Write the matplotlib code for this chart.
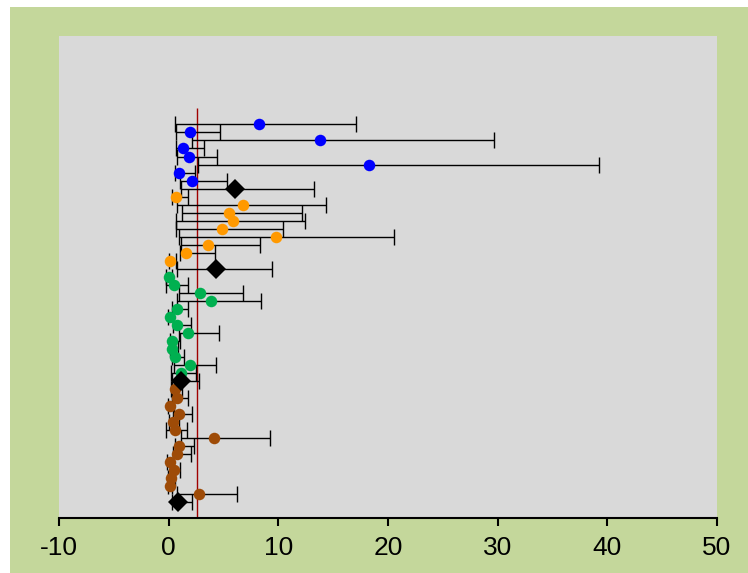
import numpy as np
import matplotlib
matplotlib.use("Agg")
import matplotlib.pyplot as plt
from matplotlib.patches import Rectangle

plt.rcParams['font.family'] = ['Liberation Sans', 'DejaVu Sans']

# estimate, lower limit, upper limit per study, grouped; last item of each group is the pooled value
blue_est = [8.2, 1.97, 13.8, 1.27, 1.85, 18.3, 0.93, 2.15]
blue_lo = [0.57, 0.66, 2.09, 0.63, 0.75, 2.67, 0.57, 1.03]
blue_hi = [17.1, 4.7, 29.7, 3.2, 4.4, 39.2, 2.4, 5.35]
blue_pool = [6.05, 1.15, 13.23]

orange_est = [0.63, 6.81, 5.47, 5.87, 4.89, 9.79, 3.58, 1.6, 0.14]
orange_lo = [0.3, 0.75, 1.21, 0.66, 0.63, 0.9, 1.15, 1.06, 0.0]
orange_hi = [1.76, 14.36, 12.17, 12.47, 10.43, 20.54, 8.33, 4.25, 0.66]
orange_pool = [4.28, 0.75, 9.43]

green_est = [0.0, 0.5, 2.85, 3.85, 0.76, 0.12, 0.76, 1.79, 0.33, 0.29, 0.55, 1.93, 1.1]
green_lo = [-0.2, -0.28, 0.95, 0.72, 0.27, -0.1, 0.4, 0.97, 0.1, 0.1, 0.3, 0.48, 0.22]
green_hi = [0.3, 1.72, 6.78, 8.39, 1.78, 0.4, 2.03, 4.59, 1.0, 0.84, 1.4, 4.34, 2.5]
green_pool = [1.16, 0.29, 2.73]

brown_est = [0.62, 0.72, 0.15, 0.95, 0.38, 0.55, 4.1, 0.95, 0.78, 0.1, 0.45, 0.22, 0.08, 2.75]
brown_lo = [0.2, 0.3, -0.1, 0.4, 0.0, -0.28, 1.09, 0.57, 0.4, -0.15, 0.1, -0.05, -0.1, 0.76]
brown_hi = [1.2, 1.8, 0.45, 2.13, 0.9, 1.65, 9.21, 2.33, 2.05, 0.35, 1.05, 0.55, 0.3, 6.22]
brown_pool = [0.86, 0.3, 2.13]

ref_line = 2.6
xticks = [-10, 0, 10, 20, 30, 40, 50]

groups = [
    (blue_est, blue_lo, blue_hi, blue_pool, '#0000FF'),
    (orange_est, orange_lo, orange_hi, orange_pool, '#FF9900'),
    (green_est, green_lo, green_hi, green_pool, '#00B050'),
    (brown_est, brown_lo, brown_hi, brown_pool, '#9E4B07'),
]

fig = plt.figure(figsize=(7.48, 5.73), dpi=100)
fig.patch.set_facecolor('white')
bg = Rectangle((10 / 748, 0), 738 / 748, 566 / 573, transform=fig.transFigure,
               facecolor='#C4D79B', edgecolor='none', zorder=-5)
fig.patches.append(bg)
ax = fig.add_axes([59 / 748, 55 / 573, 658 / 748, 482 / 573])
ax.set_zorder(1)
ax.set_facecolor('#D9D9D9')

row = 0
for est, lo, hi, pool, col in groups:
    y = np.arange(row, row + len(est))
    est = np.array(est)
    err = [est - np.array(lo), np.array(hi) - est]
    ax.errorbar(est, y, xerr=err, fmt='none', ecolor='black', elinewidth=1,
                capsize=6, capthick=1, zorder=2)
    ax.plot(est, y, 'o', color=col, markersize=8.3, markeredgewidth=0, zorder=3)
    row += len(est)
    p, plo, phi = pool
    ax.errorbar([p], [row], xerr=[[p - plo], [phi - p]], fmt='none', ecolor='black',
                elinewidth=1, capsize=6, capthick=1, zorder=2)
    ax.plot([p], [row], 'D', color='black', markersize=10.5, markeredgewidth=0, zorder=4)
    row += 1

ax.vlines(ref_line, -2, 49, color='#A00000', linewidth=1, zorder=1)

ax.set_xlim(-10, 50)
ax.set_ylim(49, -11)
ax.set_xticks(xticks)
ax.set_xticklabels([str(t) for t in xticks], fontsize=19)
ax.set_yticks([])
for s in ['top', 'right', 'left']:
    ax.spines[s].set_visible(False)
ax.spines['bottom'].set_linewidth(1.5)
ax.tick_params(axis='x', direction='out', length=6, width=1.5, pad=7)

fig.savefig('out.png', dpi=100)
